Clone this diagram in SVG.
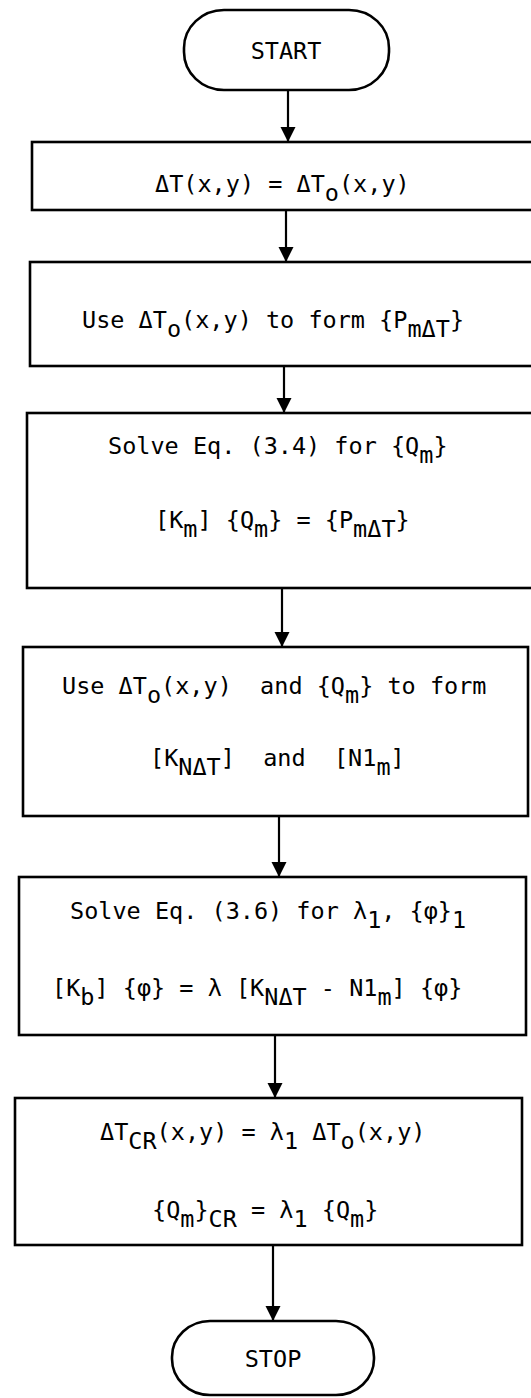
<svg xmlns="http://www.w3.org/2000/svg" width="531" height="1398" viewBox="0 0 531 1398">
<style>
.box{fill:none;stroke:#000;stroke-width:2.6}
.t{font-family:"DejaVu Sans Mono","Liberation Mono",monospace;font-size:23.5px;fill:#000;white-space:pre}
.c{stroke:#000;stroke-width:2.2;fill:none}
</style>
<defs>
<marker id="ah" viewBox="0 0 10 10" refX="10" refY="5" markerWidth="7" markerHeight="8" markerUnits="strokeWidth" orient="auto">
<path d="M0,0 L10,5 L0,10 z" fill="#000"/>
</marker>
</defs>
<rect width="531" height="1398" fill="#fff"/>
<g id="connectors">
<line class="c" x1="288" y1="90" x2="288" y2="142" marker-end="url(#ah)"/>
<line class="c" x1="286" y1="210" x2="286" y2="262" marker-end="url(#ah)"/>
<line class="c" x1="284" y1="366" x2="284" y2="413" marker-end="url(#ah)"/>
<line class="c" x1="282" y1="588" x2="282" y2="647" marker-end="url(#ah)"/>
<line class="c" x1="279" y1="816" x2="279" y2="877" marker-end="url(#ah)"/>
<line class="c" x1="275" y1="1035" x2="275" y2="1098" marker-end="url(#ah)"/>
<line class="c" x1="273" y1="1245" x2="273" y2="1321" marker-end="url(#ah)"/>
</g>
<g id="start">
<rect class="box" x="184" y="10" width="205" height="80" rx="40" ry="38"/>
<text class="t" x="286" y="59" text-anchor="middle">START</text>
</g>
<g id="box1">
<rect class="box" x="32" y="142" width="510" height="68"/>
<text class="t" x="155" y="192">ΔT(x,y) = ΔT<tspan dy="9">o</tspan><tspan dy="-9">(x,y)</tspan></text>
</g>
<g id="box2">
<rect class="box" x="30" y="262" width="512" height="104"/>
<text class="t" x="82" y="328">Use ΔT<tspan dy="9">o</tspan><tspan dy="-9">(x,y) to form {P</tspan><tspan dy="9">mΔT</tspan><tspan dy="-9">}</tspan></text>
</g>
<g id="box3">
<rect class="box" x="27" y="413" width="515" height="175"/>
<text class="t" x="108" y="454">Solve Eq. (3.4) for {Q<tspan dy="9">m</tspan><tspan dy="-9">}</tspan></text>
<text class="t" x="155" y="528">[K<tspan dy="9">m</tspan><tspan dy="-9">] {Q</tspan><tspan dy="9">m</tspan><tspan dy="-9">} = {P</tspan><tspan dy="9">mΔT</tspan><tspan dy="-9">}</tspan></text>
</g>
<g id="box4">
<rect class="box" x="23" y="647" width="505" height="169"/>
<text class="t" x="62" y="694">Use ΔT<tspan dy="9">o</tspan><tspan dy="-9">(x,y)  and {Q</tspan><tspan dy="9">m</tspan><tspan dy="-9">} to form</tspan></text>
<text class="t" x="150" y="766">[K<tspan dy="9">NΔT</tspan><tspan dy="-9">]  and  [N1</tspan><tspan dy="9">m</tspan><tspan dy="-9">]</tspan></text>
</g>
<g id="box5">
<rect class="box" x="19" y="877" width="507" height="158"/>
<text class="t" x="70" y="919">Solve Eq. (3.6) for λ<tspan dy="9">1</tspan><tspan dy="-9">, {φ}</tspan><tspan dy="9">1</tspan></text>
<text class="t" x="52" y="996">[K<tspan dy="9">b</tspan><tspan dy="-9">] {φ} = λ [K</tspan><tspan dy="9">NΔT</tspan><tspan dy="-9"> - N1</tspan><tspan dy="9">m</tspan><tspan dy="-9">] {φ}</tspan></text>
</g>
<g id="box6">
<rect class="box" x="15" y="1098" width="507" height="147"/>
<text class="t" x="100" y="1140">ΔT<tspan dy="9">CR</tspan><tspan dy="-9">(x,y) = λ</tspan><tspan dy="9">1</tspan><tspan dy="-9"> ΔT</tspan><tspan dy="9">o</tspan><tspan dy="-9">(x,y)</tspan></text>
<text class="t" x="152" y="1218">{Q<tspan dy="9">m</tspan><tspan dy="-9">}</tspan><tspan dy="9">CR</tspan><tspan dy="-9"> = λ</tspan><tspan dy="9">1</tspan><tspan dy="-9"> {Q</tspan><tspan dy="9">m</tspan><tspan dy="-9">}</tspan></text>
</g>
<g id="stop">
<rect class="box" x="172" y="1321" width="202" height="74" rx="38" ry="36"/>
<text class="t" x="273" y="1367" text-anchor="middle">STOP</text>
</g>
</svg>
